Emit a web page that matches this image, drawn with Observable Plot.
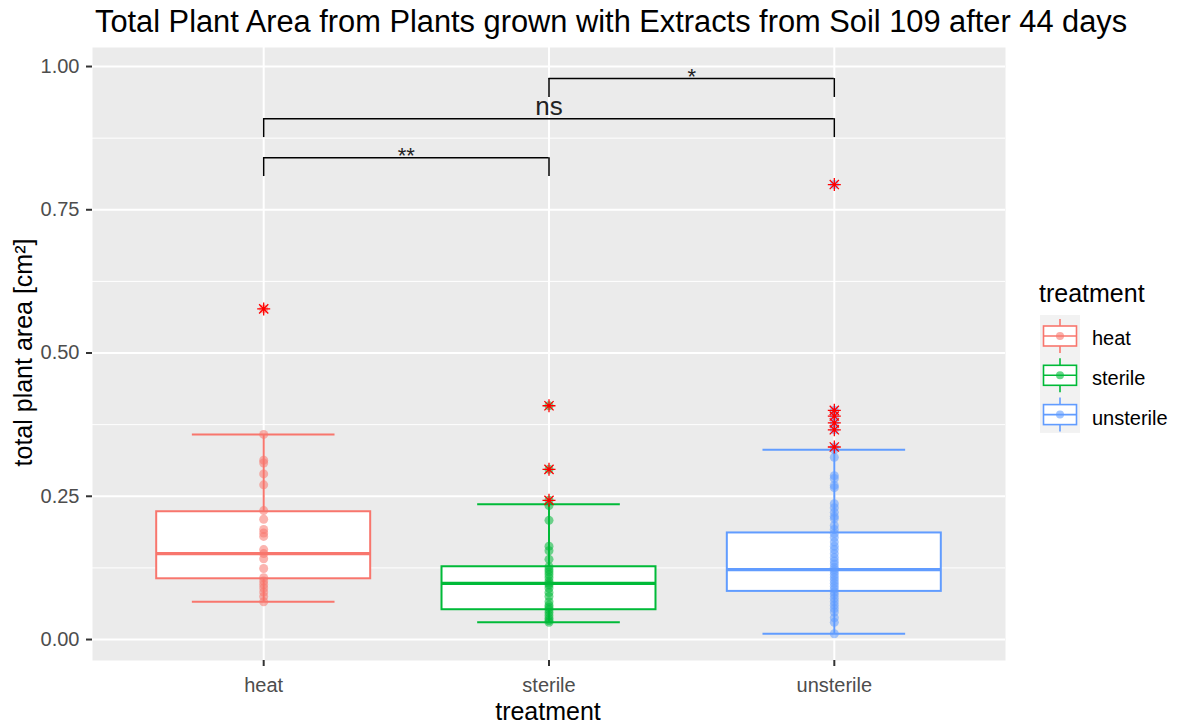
<!DOCTYPE html>
<html>
<head>
<meta charset="utf-8">
<script src="https://cdn.jsdelivr.net/npm/d3@7"></script>
<script src="https://cdn.jsdelivr.net/npm/@observablehq/plot@0.6"></script>
<style>
  body { margin: 0; background: #ffffff; font-family: "Liberation Sans", Arial, sans-serif; }
  #wrap { position: relative; width: 1181px; height: 724px; overflow: hidden; background: #fff; }
  #title { position: absolute; left: 95px; top: 7px; font-size: 30.8px; line-height: 30.8px; white-space: nowrap; color: #000; }
  #chart { position: absolute; left: 0; top: 40px; }
  #ytitle { position: absolute; left: -127px; top: 340px; width: 300px; height: 25px; font-size: 25px; line-height: 25px; text-align: center; transform: rotate(-90deg); transform-origin: 150px 12.5px; white-space: nowrap; color: #000; }
  #xtitle { position: absolute; left: 398px; top: 699px; width: 300px; font-size: 25px; line-height: 25px; text-align: center; color: #000; }
  #legtitle { position: absolute; left: 1039px; top: 281px; font-size: 25px; line-height: 25px; color: #000; }
  #legkeys { position: absolute; left: 1040px; top: 315px; }
  .leglab { position: absolute; left: 1092px; font-size: 20px; line-height: 20px; color: #000; white-space: nowrap; }
</style>
</head>
<body>
<div id="wrap">
  <div id="title">Total Plant Area from Plants grown with Extracts from Soil 109 after 44 days</div>
  <div id="chart"></div>
  <div id="ytitle">total plant area [cm²]</div>
  <div id="xtitle">treatment</div>
  <div id="legtitle">treatment</div>
  <div id="legend"></div>
</div>
<script>
// ---------- data ----------
const categories = ["heat", "sterile", "unsterile"];
const colors = ["#F8766D", "#00BA38", "#619CFF"];

const heatValues = [0.066, 0.075, 0.083, 0.090, 0.096, 0.102, 0.108, 0.124, 0.141, 0.150, 0.157,
  0.180, 0.186, 0.192, 0.210, 0.225, 0.270, 0.289, 0.308, 0.313, 0.358, 0.577];
const sterileValues = [0.030, 0.033, 0.037, 0.042, 0.047, 0.052, 0.056, 0.060, 0.066, 0.075, 0.082,
  0.090, 0.095, 0.098, 0.102, 0.108, 0.113, 0.118, 0.122, 0.127, 0.140, 0.155, 0.163, 0.208,
  0.234, 0.243, 0.297, 0.408];
const unsterileValues = [0.010, 0.030, 0.038, 0.048, 0.054, 0.060, 0.066, 0.072, 0.078, 0.083, 0.088,
  0.093, 0.098, 0.103, 0.108, 0.113, 0.118, 0.122, 0.126, 0.132, 0.137, 0.143, 0.150, 0.157,
  0.163, 0.170, 0.178, 0.185, 0.192, 0.199, 0.211, 0.215, 0.222, 0.230, 0.237, 0.265, 0.269,
  0.281, 0.286, 0.318, 0.331, 0.336, 0.366, 0.378, 0.390, 0.400, 0.794];

const q1 = [0.106, 0.052, 0.084];
const medians = [0.150, 0.098, 0.122];
const q3 = [0.223, 0.127, 0.186];
const whiskerLow = [0.066, 0.030, 0.010];
const whiskerHigh = [0.358, 0.236, 0.331];

const heatOutliers = [0.577];
const sterileOutliers = [0.243, 0.297, 0.408];
const unsterileOutliers = [0.336, 0.366, 0.378, 0.390, 0.400, 0.794];

const compFrom = ["heat", "heat", "sterile"];
const compTo = ["sterile", "unsterile", "unsterile"];
const compLabels = ["**", "ns", "*"];
const compY = [0.841, 0.909, 0.979];

const yTicks = [0, 0.25, 0.5, 0.75, 1];
const yMinor = [0.125, 0.375, 0.625, 0.875];

// ---------- derived tables ----------
const idx = c => categories.indexOf(c) + 1;
const boxes = categories.map((c, i) => ({cat: c, i: i + 1, q1: q1[i], med: medians[i], q3: q3[i], lo: whiskerLow[i], hi: whiskerHigh[i]}));
const valueLists = [heatValues, sterileValues, unsterileValues];
const outlierLists = [heatOutliers, sterileOutliers, unsterileOutliers];
const points = valueLists.flatMap((vs, i) => vs.map(v => ({cat: categories[i], i: i + 1, v})));
const outliers = outlierLists.flatMap((vs, i) => vs.map(v => ({cat: categories[i], i: i + 1, v})));
const comps = compLabels.map((l, k) => ({x1: idx(compFrom[k]), x2: idx(compTo[k]), label: l, y: compY[k]}));
const tip = 0.033;
const tips = comps.flatMap(c => [{x: c.x1, y1: c.y - tip, y2: c.y}, {x: c.x2, y1: c.y - tip, y2: c.y}]);

const star8 = {
  draw(ctx, size) {
    const r = Math.sqrt(size / Math.PI);
    const d = r * Math.SQRT1_2;
    ctx.moveTo(-r, 0); ctx.lineTo(r, 0);
    ctx.moveTo(0, -r); ctx.lineTo(0, r);
    ctx.moveTo(-d, -d); ctx.lineTo(d, d);
    ctx.moveTo(-d, d); ctx.lineTo(d, -d);
  }
};

const chart = Plot.plot({
  width: 1010,
  height: 684,
  marginTop: 7,
  marginBottom: 64,
  marginLeft: 92,
  marginRight: 5,
  style: {fontFamily: "Liberation Sans, Arial, sans-serif", background: "transparent"},
  x: {type: "linear", domain: [0.4, 3.6]},
  y: {domain: [-0.0366, 1.0332]},
  color: {domain: categories, range: colors},
  marks: [
    Plot.frame({fill: "#EBEBEB"}),
    Plot.ruleY(yMinor, {stroke: "white", strokeWidth: 1}),
    Plot.ruleY(yTicks, {stroke: "white", strokeWidth: 2}),
    Plot.ruleX([1, 2, 3], {stroke: "white", strokeWidth: 2}),
    Plot.axisY(yTicks, {tickFormat: d3.format(".2f"), tickSize: 6, tickPadding: 7, fontSize: 20, stroke: "#333333", strokeWidth: 2, fill: "#4D4D4D", label: null}),
    Plot.axisX([1, 2, 3], {tickFormat: i => categories[i - 1], tickSize: 6, tickPadding: 11, fontSize: 20, stroke: "#333333", strokeWidth: 2, fill: "#4D4D4D", label: null}),
    // whiskers (errorbar)
    Plot.ruleX(boxes, {x: "i", y1: "lo", y2: "hi", stroke: "cat", strokeWidth: 2}),
    Plot.ruleY(boxes, {y: "lo", x1: d => d.i - 0.25, x2: d => d.i + 0.25, stroke: "cat", strokeWidth: 2}),
    Plot.ruleY(boxes, {y: "hi", x1: d => d.i - 0.25, x2: d => d.i + 0.25, stroke: "cat", strokeWidth: 2}),
    // boxes
    Plot.rect(boxes, {x1: d => d.i - 0.375, x2: d => d.i + 0.375, y1: "q1", y2: "q3", fill: "white", stroke: "cat", strokeWidth: 2}),
    Plot.ruleY(boxes, {y: "med", x1: d => d.i - 0.375, x2: d => d.i + 0.375, stroke: "cat", strokeWidth: 3.2}),
    // points
    Plot.dot(points, {x: "i", y: "v", r: 4.5, fill: "cat", fillOpacity: 0.55, stroke: "none"}),
    // outliers
    Plot.dot(outliers, {x: "i", y: "v", r: 6.5, symbol: star8, stroke: "#FF0000", strokeWidth: 1.3, fill: "none"}),
    // significance brackets
    Plot.ruleY(comps, {y: "y", x1: "x1", x2: "x2", stroke: "black", strokeWidth: 1.5}),
    Plot.ruleX(tips, {x: "x", y1: "y1", y2: "y2", stroke: "black", strokeWidth: 1.5}),
    Plot.text(comps.filter(c => c.label === "ns"), {x: d => (d.x1 + d.x2) / 2, y: "y", text: "label", fontSize: 26, lineAnchor: "bottom", dy: -4, fill: "#222"}),
    Plot.text(comps.filter(c => c.label !== "ns"), {x: d => (d.x1 + d.x2) / 2, y: "y", text: "label", fontSize: 22, lineAnchor: "bottom", dy: 5, fill: "#222"})
  ]
});
document.getElementById("chart").appendChild(chart);

// ---------- legend ----------
const legend = document.getElementById("legend");
const keyH = 39.3;
const svg = d3.create("svg").attr("width", 40).attr("height", keyH * categories.length)
  .attr("id", "legkeys");
svg.append("rect").attr("width", 40).attr("height", keyH * categories.length).attr("fill", "#F2F2F2");
categories.forEach((c, k) => {
  const cy = keyH * k + 21;
  const g = svg.append("g").attr("stroke", colors[k]).attr("stroke-width", 1.6);
  g.append("line").attr("x1", 20).attr("x2", 20).attr("y1", cy - 17).attr("y2", cy + 17);
  g.append("rect").attr("x", 3.5).attr("y", cy - 10).attr("width", 33).attr("height", 20).attr("fill", "white");
  g.append("line").attr("x1", 3.5).attr("x2", 36.5).attr("y1", cy).attr("y2", cy);
  svg.append("circle").attr("cx", 20).attr("cy", cy).attr("r", 4).attr("fill", colors[k]).attr("fill-opacity", 0.6);
  const lab = document.createElement("div");
  lab.className = "leglab";
  lab.style.top = (328 + 40 * k) + "px";
  lab.textContent = c;
  legend.appendChild(lab);
});
legend.appendChild(svg.node());
</script>
</body>
</html>
